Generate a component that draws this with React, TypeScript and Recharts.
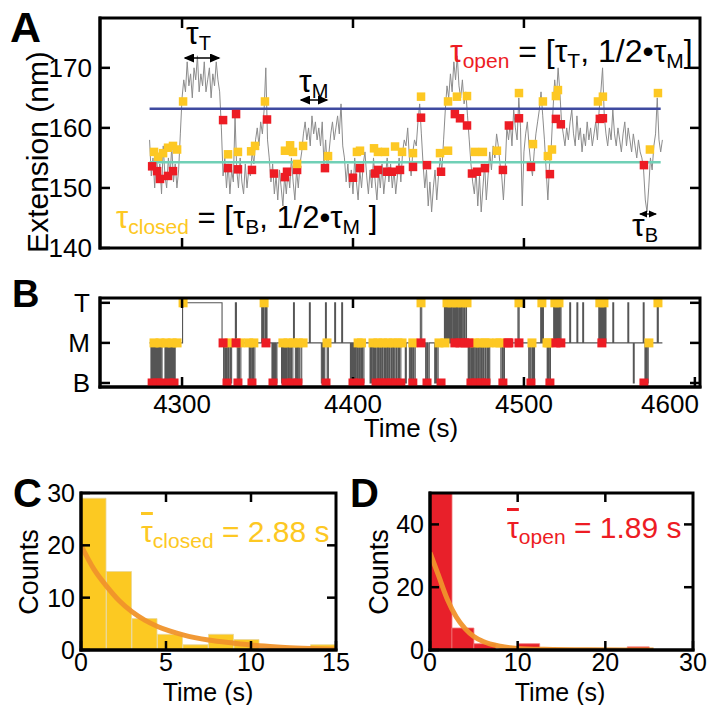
import React from "react";
import { ComposedChart, Line, Scatter, Bar, XAxis, YAxis, ReferenceLine } from "recharts";

const FONT = "'Liberation Sans', Arial, Helvetica, sans-serif";
const YELLOW = "#fdc823";
const RED = "#ed1c24";
const ORANGE = "#f0932b";
const BLUE = "#3f4aa0";
const TEAL = "#70d0b6";
const GREY = "#8c8c8c";

// ---- panel A: extension trace (1 s steps from 4281 s) ----
const traceStart = 4281;
const traceValues = [
  158, 152, 155, 150, 156, 151, 154, 149, 157, 152,
  150, 155, 152, 157, 151, 154, 150, 153, 159, 165,
  168, 166, 171, 167, 169, 165, 170, 168, 172, 166,
  169, 167, 171, 166, 168, 170, 165, 169, 167, 171,
  168, 166, 160, 152, 155, 150, 154, 149, 153, 151,
  162, 153, 150, 155, 151, 149, 154, 150, 153, 152,
  156, 154, 158, 160, 157, 161, 159, 163, 170, 158,
  155, 151, 154, 149, 152, 148, 153, 150, 147, 152,
  149, 153, 150, 155, 151, 148, 153, 150, 154, 156,
  159, 161, 158, 160, 157, 162, 159, 161, 158, 160,
  157, 161, 154, 158, 153, 156, 159, 161, 158, 160,
  162, 159, 164, 157, 155, 151, 154, 150, 153, 149,
  155, 151, 148, 153, 150, 154, 156, 152, 149, 153,
  150, 155, 151, 148, 153, 150, 154, 149, 152, 155,
  151, 154, 150, 153, 149, 152, 155, 151, 156, 158,
  157, 160, 155, 152, 156, 158, 157, 161, 164, 159,
  154, 150, 153, 147, 151, 146, 150, 153, 148, 152,
  155, 153, 158, 163, 167, 165, 169, 166, 171, 168,
  172, 167, 165, 168, 164, 166, 162, 158, 154, 151,
  149, 153, 147, 152, 146, 150, 154, 148, 152, 156,
  153, 157, 155, 159, 157, 154, 152, 148, 153, 160,
  158, 161, 157, 163, 160, 158, 165, 160, 147, 156,
  159, 161, 157, 154, 152, 156, 159, 161, 163, 166,
  162, 158, 153, 148, 154, 157, 163, 168, 165, 170,
  166, 161, 159, 157, 160, 158, 161, 163, 159, 157,
  162, 158, 160, 156, 159, 157, 161, 158, 160, 157,
  159, 161, 158, 163, 166, 170, 162, 159, 157, 160,
  158, 163, 159, 157, 160, 158, 156, 159, 161, 157,
  160, 158, 156, 159, 157, 155, 158, 156, 155, 153,
  148, 146, 150, 155, 153, 157, 159, 165, 158, 156,
  158,
];
const trace = traceValues.map((v, i) => ({ t: traceStart + i, v }));

const openLevel = 163.2;
const closedLevel = 154.3;
const levelSpan = [4281, 4580];

// closing / opening events on the trace [time, extension]
const closedEventsA = [
  [4283.6, 156.0], [4286.0, 155.2], [4288.9, 155.8], [4291.8, 156.7], [4294.7, 157.0], [4297.1, 156.4],
  [4300.6, 164.4], [4326.9, 155.6], [4332.7, 156.0], [4340.4, 156.1], [4342.7, 157.0], [4348.5, 164.4],
  [4360.2, 156.2], [4363.2, 157.1], [4364.9, 156.0], [4367.3, 154.0], [4370.8, 157.0], [4385.4, 155.3],
  [4402.3, 156.0], [4404.1, 156.2], [4412.3, 156.6], [4414.6, 156.0], [4418.7, 156.0], [4424.6, 156.9],
  [4428.7, 156.0], [4435.1, 155.8], [4439.8, 165.2], [4450.9, 155.8], [4455.6, 156.2], [4455.6, 164.4],
  [4460.8, 165.2], [4466.7, 165.3], [4471.3, 156.0], [4476.0, 156.0], [4484.2, 156.2], [4497.1, 165.8],
  [4505.3, 157.3], [4511.1, 164.4], [4514.0, 155.3], [4516.4, 156.4], [4518.7, 165.3], [4519.9, 166.3],
  [4543.3, 164.4], [4546.2, 165.2], [4573.7, 156.4], [4578.4, 165.8],
];
const openEventsA = [
  [4282.5, 153.6], [4285.4, 152.8], [4287.1, 151.5], [4291.8, 152.0], [4294.7, 152.8], [4324.0, 161.3],
  [4326.9, 153.3], [4331.6, 162.3], [4332.7, 153.1], [4340.9, 153.0], [4349.7, 161.4], [4353.8, 152.4],
  [4360.2, 151.8], [4361.4, 152.7], [4367.3, 153.0], [4383.6, 153.3], [4400.0, 151.7], [4404.1, 153.3],
  [4412.9, 152.4], [4414.6, 153.0], [4419.9, 152.7], [4422.8, 152.7], [4427.5, 153.0], [4435.1, 153.5],
  [4439.8, 161.7], [4443.3, 153.8], [4451.5, 152.7], [4459.6, 162.3], [4462.6, 161.6], [4466.7, 160.4],
  [4469.6, 152.4], [4472.5, 152.7], [4477.2, 153.3], [4487.7, 153.0], [4491.2, 160.4], [4497.1, 161.6],
  [4504.1, 153.5], [4515.2, 152.3], [4518.7, 161.5], [4521.6, 160.6], [4544.4, 161.5], [4546.2, 161.6],
  [4570.2, 153.8],
];

// ---- panel B: state trajectory (B = 0, M = 1, T = 2) ----
const stateLabels = ["B", "M", "T"];
const stateSteps = [
  [4281.0, 1], [4281.8, 0], [4282.4, 1], [4283.0, 0], [4283.5, 1], [4284.1, 0], [4284.6, 1], [4285.2, 0],
  [4285.8, 1], [4286.4, 0], [4287.0, 1], [4287.6, 0], [4288.3, 1], [4290.0, 0], [4290.5, 1], [4291.0, 0],
  [4291.5, 1], [4292.0, 0], [4292.6, 1], [4293.1, 0], [4293.7, 1], [4294.3, 0], [4294.8, 1], [4295.4, 0],
  [4296.0, 1], [4300.3, 2], [4323.4, 1], [4324.3, 0], [4325.0, 1], [4325.6, 0], [4326.2, 1], [4326.9, 0],
  [4327.5, 1], [4328.3, 0], [4329.0, 1], [4331.2, 2], [4331.8, 1], [4332.3, 0], [4333.0, 1], [4333.6, 0],
  [4334.4, 1], [4339.3, 0], [4339.9, 1], [4340.5, 0], [4341.2, 1], [4341.8, 0], [4342.6, 1], [4346.6, 2],
  [4347.2, 1], [4347.8, 2], [4348.6, 1], [4349.1, 2], [4349.7, 1], [4352.6, 0], [4353.2, 1], [4353.7, 0],
  [4354.3, 1], [4354.8, 0], [4355.5, 1], [4358.2, 0], [4358.8, 1], [4359.3, 0], [4359.9, 1], [4360.5, 0],
  [4361.0, 1], [4361.6, 0], [4362.3, 1], [4362.8, 0], [4363.5, 1], [4364.0, 0], [4364.8, 1], [4365.2, 2],
  [4365.7, 1], [4366.3, 0], [4367.0, 1], [4367.6, 0], [4368.3, 1], [4369.0, 0], [4370.0, 1], [4374.5, 2],
  [4375.0, 1], [4381.5, 0], [4382.2, 1], [4382.8, 0], [4383.5, 1], [4383.9, 2], [4384.4, 1], [4384.9, 0],
  [4385.6, 1], [4389.3, 2], [4389.8, 1], [4393.4, 2], [4393.9, 1], [4398.5, 0], [4399.0, 1], [4399.5, 0],
  [4400.1, 1], [4400.6, 0], [4401.2, 1], [4401.8, 0], [4402.5, 1], [4403.0, 0], [4403.7, 1], [4404.3, 0],
  [4405.0, 1], [4405.6, 0], [4406.4, 1], [4410.0, 0], [4410.5, 1], [4411.1, 0], [4411.8, 1], [4412.4, 0],
  [4413.0, 1], [4413.6, 0], [4414.4, 1], [4415.0, 0], [4415.7, 1], [4416.3, 0], [4417.0, 1], [4417.6, 0],
  [4418.4, 1], [4419.0, 0], [4419.7, 1], [4420.3, 0], [4421.0, 1], [4421.6, 0], [4422.4, 1], [4423.0, 0],
  [4423.7, 1], [4424.4, 0], [4425.2, 1], [4425.8, 0], [4426.6, 1], [4427.2, 0], [4428.0, 1], [4430.6, 0],
  [4431.2, 1], [4433.0, 0], [4433.7, 1], [4434.3, 0], [4435.0, 1], [4435.6, 0], [4436.4, 1], [4439.4, 2],
  [4440.2, 1], [4442.5, 0], [4443.2, 1], [4443.8, 0], [4444.6, 1], [4447.8, 0], [4448.4, 1], [4449.0, 0],
  [4449.8, 1], [4453.5, 2], [4454.0, 1], [4454.6, 2], [4455.2, 1], [4455.8, 2], [4456.3, 1], [4456.9, 2],
  [4457.5, 1], [4458.0, 2], [4458.7, 1], [4459.3, 2], [4459.9, 1], [4460.5, 2], [4461.1, 1], [4461.8, 2],
  [4462.4, 1], [4463.0, 2], [4463.6, 1], [4464.3, 2], [4465.0, 1], [4465.6, 2], [4466.4, 1], [4467.4, 0],
  [4468.0, 1], [4468.6, 0], [4469.3, 1], [4469.9, 0], [4470.5, 1], [4471.2, 0], [4471.9, 1], [4472.5, 0],
  [4473.2, 1], [4473.8, 0], [4474.5, 1], [4475.2, 0], [4475.9, 1], [4476.5, 0], [4477.3, 1], [4477.9, 0],
  [4478.7, 1], [4479.3, 0], [4480.0, 1], [4486.5, 0], [4487.3, 1], [4487.9, 0], [4488.6, 1], [4496.5, 2],
  [4497.2, 1], [4502.8, 0], [4503.5, 1], [4504.2, 0], [4505.0, 1], [4505.6, 0], [4506.2, 1], [4509.8, 2],
  [4510.3, 1], [4510.9, 2], [4511.4, 1], [4513.6, 0], [4514.2, 1], [4514.8, 0], [4515.5, 1], [4517.4, 2],
  [4518.0, 1], [4518.6, 2], [4519.2, 1], [4519.8, 2], [4520.4, 1], [4521.0, 2], [4521.7, 1], [4526.8, 2],
  [4527.3, 1], [4531.0, 2], [4531.5, 1], [4534.4, 2], [4534.9, 1], [4543.8, 2], [4544.4, 1], [4545.0, 2],
  [4545.6, 1], [4546.2, 2], [4546.8, 1], [4547.4, 2], [4548.0, 1], [4552.0, 2], [4552.5, 1], [4560.8, 2],
  [4561.3, 1], [4564.0, 0], [4564.5, 1], [4569.8, 2], [4570.3, 1], [4570.8, 0], [4571.4, 1], [4572.0, 0],
  [4572.7, 1], [4578.0, 2], [4578.6, 1], [4581.0, 1],
];
const closedEventsB = [
  [4283.6, 1], [4287.1, 1], [4290.6, 1], [4294.2, 1], [4297.1, 1], [4300.6, 2], [4327.5, 1], [4334.0, 1],
  [4339.0, 1], [4342.0, 1], [4348.0, 2], [4359.0, 1], [4362.0, 1], [4365.0, 1], [4368.0, 1], [4370.8, 1],
  [4384.8, 1], [4403.0, 1], [4405.0, 1], [4411.7, 1], [4414.6, 1], [4417.5, 1], [4420.5, 1], [4423.4, 1],
  [4426.3, 1], [4428.7, 1], [4435.0, 1], [4450.3, 1], [4453.8, 1], [4471.3, 1], [4474.3, 1], [4477.2, 1],
  [4479.5, 1], [4484.2, 1], [4439.8, 2], [4455.0, 2], [4457.9, 2], [4460.8, 2], [4463.7, 2], [4466.7, 2],
  [4486.0, 1], [4504.7, 1], [4513.5, 1], [4514.6, 1], [4573.1, 1], [4497.1, 2], [4510.5, 2], [4518.1, 2],
  [4520.5, 2], [4544.4, 2], [4546.8, 2], [4578.4, 2],
];
const openEventsB = [
  [4282.5, 0], [4285.4, 0], [4287.7, 0], [4292.4, 0], [4295.3, 0], [4324.0, 1], [4331.6, 1], [4349.1, 1],
  [4326.3, 0], [4332.7, 0], [4340.9, 0], [4353.2, 0], [4360.8, 0], [4364.3, 0], [4367.8, 0], [4384.2, 0],
  [4400.0, 0], [4404.1, 0], [4413.5, 0], [4416.4, 0], [4419.3, 0], [4422.2, 0], [4425.1, 0], [4428.0, 0],
  [4435.0, 0], [4443.3, 0], [4451.5, 0], [4469.0, 0], [4471.9, 0], [4474.9, 0], [4477.8, 0], [4487.7, 0],
  [4439.8, 1], [4459.6, 1], [4462.6, 1], [4465.5, 1], [4467.8, 1], [4490.6, 1], [4491.2, 1], [4497.1, 1],
  [4518.7, 1], [4521.6, 1], [4545.6, 1], [4504.1, 0], [4515.2, 0], [4570.2, 0],
];

// ---- panel C / D: dwell time histograms ----
const closedBinCenters = [0.75, 2.25, 3.75, 5.25, 6.75, 8.25, 9.75, 11.25, 12.75, 14.25];
const closedCounts = [29, 15, 6, 3, 1, 3, 2, 0, 0, 1];
const closedFit = [
  [0, 20], [0.75, 15.5], [1.5, 12.2], [2.25, 9.4], [3, 7.3], [3.75, 5.7], [4.5, 4.5], [5.25, 3.6],
  [6, 2.9], [7.5, 1.9], [9, 1.3], [10.5, 0.8], [12, 0.5], [13.5, 0.3], [15, 0.15],
];
const openBinCenters = [1.25, 3.75, 6.25, 8.75, 11.25, 13.75, 16.25, 18.75, 21.25, 23.75];
const openCounts = [50, 7, 2, 0, 2, 0, 0, 0, 0, 1];
const openFit = [
  [0, 31], [1, 23.5], [2, 16], [3, 10.5], [4, 6.8], [5, 4.3], [6, 2.8], [8, 1.2], [10, 0.5],
  [13, 0.2], [18, 0.05], [25.5, 0],
];

const toTV = (arr: number[][]) => arr.map(([t, v]) => ({ t, v }));
const closedBins = closedBinCenters.map((x, i) => ({ x, n: closedCounts[i] }));
const openBins = openBinCenters.map((x, i) => ({ x, n: openCounts[i] }));
const closedFitData = closedFit.map(([x, n]) => ({ x, n }));
const openFitData = openFit.map(([x, n]) => ({ x, n }));

const axisLine = { stroke: "#000", strokeWidth: 3, strokeLinecap: "square" as const };
const tickLine = { stroke: "#000", strokeWidth: 2.5 };
const tickFont = { fontSize: 26, fill: "#000", fontFamily: FONT };
const histFont = { fontSize: 25, fill: "#000", fontFamily: FONT };

const square = (size: number, fill: string) => (props: any) => {
  const { cx, cy } = props;
  if (cx == null || cy == null) return <g />;
  return <rect x={cx - size / 2} y={cy - size / 2} width={size} height={size} fill={fill} />;
};

const XTick = (props: any) => {
  const { x, y, payload } = props;
  const last = payload.value === 4600;
  return (
    <text x={last ? x + 4 : x} y={y} dy="0.71em" textAnchor={last ? "end" : "middle"} {...tickFont}>
      {payload.value}
    </text>
  );
};

const TIME_DOMAIN = [4252, 4603];
const EXT_DOMAIN = [140, 178.3];
const STATE_DOMAIN = [-0.1, 2.12];

// plot boxes (page pixels) that follow from the chart margins below
const BOX_A = { l: 100, r: 700, t: 18, b: 248 };
const BOX_B = { l: 100, r: 700, t: 298, b: 387 };
const BOX_C = { l: 81, r: 336, t: 493, b: 650 };
const BOX_D = { l: 430, r: 693, t: 493, b: 650 };

function PanelA() {
  return (
    <ComposedChart width={708} height={270} margin={{ top: 18, right: 8, bottom: 22, left: 40 }}>
      <XAxis dataKey="t" type="number" domain={TIME_DOMAIN} allowDataOverflow hide />
      <YAxis dataKey="v" type="number" domain={EXT_DOMAIN} allowDataOverflow ticks={[140, 150, 160, 170]}
        interval={0} width={60} tickSize={-10} tickMargin={18} tick={tickFont} axisLine={axisLine} tickLine={tickLine} />
      <Line data={trace} dataKey="v" stroke={GREY} strokeWidth={1} dot={false} isAnimationActive={false} />
      <ReferenceLine segment={[{ x: levelSpan[0], y: openLevel }, { x: levelSpan[1], y: openLevel }]}
        stroke={BLUE} strokeWidth={2.5} />
      <ReferenceLine segment={[{ x: levelSpan[0], y: closedLevel }, { x: levelSpan[1], y: closedLevel }]}
        stroke={TEAL} strokeWidth={2.5} />
      <Scatter data={toTV(openEventsA)} shape={square(8.5, RED)} isAnimationActive={false} />
      <Scatter data={toTV(closedEventsA)} shape={square(8.5, YELLOW)} isAnimationActive={false} />
    </ComposedChart>
  );
}

function PanelB() {
  return (
    <ComposedChart width={708} height={150} margin={{ top: 18, right: 8, bottom: 3, left: 40 }}>
      <XAxis dataKey="t" type="number" domain={TIME_DOMAIN} allowDataOverflow ticks={[4300, 4400, 4500, 4600]}
        interval={0} tick={<XTick />} tickSize={-10} tickMargin={18} height={40} axisLine={axisLine} tickLine={tickLine} />
      <YAxis dataKey="v" type="number" domain={STATE_DOMAIN} allowDataOverflow ticks={[0, 1, 2]} interval={0}
        tickFormatter={(v: number) => stateLabels[v]} width={60} tickSize={-10} tickMargin={20}
        tick={tickFont} axisLine={axisLine} tickLine={tickLine} />
      <Line data={toTV(stateSteps)} dataKey="v" type="stepAfter" stroke="#555" strokeWidth={1.1}
        dot={false} isAnimationActive={false} />
      <Scatter data={toTV(closedEventsB)} shape={square(9, YELLOW)} isAnimationActive={false} />
      <Scatter data={toTV(openEventsB)} shape={square(9, RED)} isAnimationActive={false} />
    </ComposedChart>
  );
}

function Histogram(props: {
  bins: any[]; fit: any[]; xMax: number; yMax: number; xTicks: number[]; yTicks: number[];
  fill: string; edge: string; width: number; margin: any;
}) {
  const { bins, fit, xMax, yMax, xTicks, yTicks, fill, edge, width, margin } = props;
  return (
    <ComposedChart width={width} height={230} data={bins} margin={margin} barCategoryGap={0} barGap={0}>
      <XAxis dataKey="x" type="number" domain={[0, xMax]} allowDataOverflow ticks={xTicks} interval={0}
        tickSize={-9} tickMargin={12} height={40} tick={histFont} axisLine={axisLine} tickLine={tickLine} />
      <XAxis xAxisId="fit" dataKey="x" type="number" domain={[0, xMax]} allowDataOverflow hide />
      <YAxis dataKey="n" type="number" domain={[0, yMax]} allowDataOverflow ticks={yTicks} width={50} interval={0}
        tickSize={-9} tickMargin={15} tick={histFont} axisLine={axisLine} tickLine={tickLine} />
      <Bar dataKey="n" fill={fill} stroke={edge} strokeWidth={0.8} isAnimationActive={false} />
      <Line data={fit} xAxisId="fit" dataKey="n" type="monotone" stroke={ORANGE} strokeWidth={5}
        strokeOpacity={0.95} dot={false} isAnimationActive={false} />
    </ComposedChart>
  );
}

// box outline with inward tick marks on the sides that carry no labels
function Frame(props: {
  box: { l: number; r: number; t: number; b: number }; xd: number[]; yd: number[];
  top?: number[]; bottom?: number[]; right?: number[]; len: number;
}) {
  const { box, xd, yd, top = [], bottom = [], right = [], len } = props;
  const sx = (v: number) => box.l + ((v - xd[0]) / (xd[1] - xd[0])) * (box.r - box.l);
  const sy = (v: number) => box.b - ((v - yd[0]) / (yd[1] - yd[0])) * (box.b - box.t);
  return (
    <g stroke="#000" fill="none">
      <rect x={box.l} y={box.t} width={box.r - box.l} height={box.b - box.t} strokeWidth={3} />
      {top.map((v) => <line key={"t" + v} x1={sx(v)} x2={sx(v)} y1={box.t} y2={box.t + len} strokeWidth={2.5} />)}
      {bottom.map((v) => <line key={"b" + v} x1={sx(v)} x2={sx(v)} y1={box.b} y2={box.b - len} strokeWidth={2.5} />)}
      {right.map((v) => <line key={"r" + v} x1={box.r} x2={box.r - len} y1={sy(v)} y2={sy(v)} strokeWidth={2.5} />)}
    </g>
  );
}

const SUB = 20;

export default function App() {
  return (
    <div style={{ position: "absolute", left: 0, top: 0, width: 708, height: 705, background: "#fff", fontFamily: FONT }}>
      <div style={{ position: "absolute", left: 0, top: 0 }}>
        <PanelA />
      </div>
      <div style={{ position: "absolute", left: 0, top: 280 }}>
        <PanelB />
      </div>
      <div style={{ position: "absolute", left: 0, top: 470 }}>
        <Histogram bins={closedBins} fit={closedFitData} xMax={15} yMax={30} xTicks={[0, 5, 10, 15]}
          yTicks={[0, 10, 20, 30]} fill="#fcc922" edge="#e8d79a" width={360}
          margin={{ top: 23, right: 24, bottom: 10, left: 31 }} />
      </div>
      <div style={{ position: "absolute", left: 350, top: 470 }}>
        <Histogram bins={openBins} fit={openFitData} xMax={30} yMax={50} xTicks={[0, 10, 20, 30]}
          yTicks={[0, 20, 40]} fill="#e8202a" edge="#f07a7a" width={358}
          margin={{ top: 23, right: 15, bottom: 10, left: 30 }} />
      </div>

      <svg width={708} height={705} style={{ position: "absolute", left: 0, top: 0, pointerEvents: "none" }}
        fontFamily={FONT}>
        <defs>
          <marker id="ah" markerWidth="7" markerHeight="6" refX="6" refY="3" orient="auto-start-reverse">
            <path d="M0,0 L7,3 L0,6 z" fill="#000" />
          </marker>
        </defs>

        <Frame box={BOX_A} xd={TIME_DOMAIN} yd={EXT_DOMAIN} top={[4300, 4400, 4500]} bottom={[4300, 4400, 4500]}
          right={[150, 160, 170]} len={10} />
        <Frame box={BOX_B} xd={TIME_DOMAIN} yd={STATE_DOMAIN} top={[4300, 4400, 4500]} right={[0, 1, 2]} len={10} />
        <Frame box={BOX_C} xd={[0, 15]} yd={[0, 30]} top={[5, 10]} right={[10, 20]} len={9} />
        <Frame box={BOX_D} xd={[0, 30]} yd={[0, 50]} top={[10, 20]} right={[20, 40]} len={9} />

        {/* panel letters */}
        <text x={10} y={42} fontSize={43} fontWeight="bold">A</text>
        <text x={12} y={307} fontSize={38} fontWeight="bold">B</text>
        <text x={13} y={507} fontSize={40} fontWeight="bold">C</text>
        <text x={350} y={507} fontSize={40} fontWeight="bold">D</text>

        {/* axis titles */}
        <text transform="translate(48,152) rotate(-90)" textAnchor="middle" fontSize={30}>Extension (nm)</text>
        <text x={411} y={437} textAnchor="middle" fontSize={26}>Time (s)</text>
        <text transform="translate(38,572) rotate(-90)" textAnchor="middle" fontSize={27}>Counts</text>
        <text transform="translate(388,572) rotate(-90)" textAnchor="middle" fontSize={27}>Counts</text>
        <text x={208} y={701} textAnchor="middle" fontSize={25}>Time (s)</text>
        <text x={560} y={701} textAnchor="middle" fontSize={25}>Time (s)</text>

        {/* panel A annotations */}
        <text x={186} y={44} fontSize={32}>τ<tspan fontSize={SUB} dy={6}>T</tspan></text>
        <line x1={185} y1={58} x2={219} y2={58} stroke="#000" strokeWidth={1.5} markerStart="url(#ah)" markerEnd="url(#ah)" />
        <text x={299} y={92} fontSize={32}>τ<tspan fontSize={SUB} dy={6}>M</tspan></text>
        <line x1={301} y1={100} x2={327} y2={100} stroke="#000" strokeWidth={1.5} markerStart="url(#ah)" markerEnd="url(#ah)" />
        <text x={632} y={236} fontSize={32}>τ<tspan fontSize={SUB} dy={6}>B</tspan></text>
        <line x1={640} y1={214} x2={656} y2={214} stroke="#000" strokeWidth={1.2} markerStart="url(#ah)" markerEnd="url(#ah)" />

        <text x={450} y={62} fontSize={32}>
          <tspan fill={RED}>τ</tspan>
          <tspan fill={RED} fontSize={21} dy={6}>open</tspan>
          <tspan dy={-6}>{" = [τ"}</tspan>
          <tspan fontSize={21} dy={6}>T</tspan>
          <tspan dy={-6}>{", 1/2•τ"}</tspan>
          <tspan fontSize={21} dy={6}>M</tspan>
          <tspan dy={-6}>]</tspan>
        </text>
        <text x={116} y={228} fontSize={31}>
          <tspan fill={YELLOW}>τ</tspan>
          <tspan fill={YELLOW} fontSize={21} dy={6}>closed</tspan>
          <tspan dy={-6}>{" = [τ"}</tspan>
          <tspan fontSize={21} dy={6}>B</tspan>
          <tspan dy={-6}>{", 1/2•τ"}</tspan>
          <tspan fontSize={21} dy={6}>M</tspan>
          <tspan dy={-6}>{" ]"}</tspan>
        </text>

        {/* panel C / D annotations */}
        <text x={141} y={542} fontSize={30} fill={YELLOW}>
          <tspan style={{ textDecoration: "overline" }}>τ</tspan>
          <tspan fontSize={21} dy={6}>closed</tspan>
          <tspan dy={-6}>{" = 2.88 s"}</tspan>
        </text>
        <text x={507} y={538} fontSize={30} fill={RED}>
          <tspan style={{ textDecoration: "overline" }}>τ</tspan>
          <tspan fontSize={21} dy={6}>open</tspan>
          <tspan dy={-6}>{" = 1.89 s"}</tspan>
        </text>
      </svg>
    </div>
  );
}
